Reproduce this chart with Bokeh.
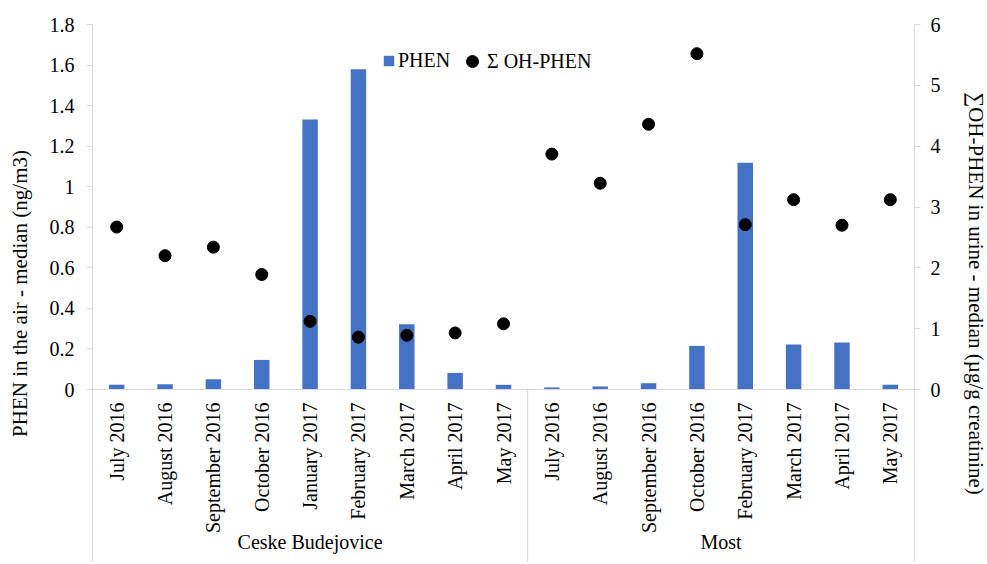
import math
from bokeh.plotting import figure
from bokeh.models import (FactorRange, Range1d, LinearAxis, FixedTicker, CustomJSTickFormatter,
                          Span, ColumnDataSource, Legend, LegendItem, Label)
from bokeh.core.properties import value
from bokeh.embed import file_html
from bokeh.resources import INLINE

# ---------------- data ----------------
cities = ["Ceske Budejovice", "Most"]
months_cb = ["July 2016", "August 2016", "September 2016", "October 2016", "January 2017",
             "February 2017", "March 2017", "April 2017", "May 2017"]
months_most = ["July 2016", "August 2016", "September 2016", "October 2016",
               "February 2017", "March 2017", "April 2017", "May 2017"]
phen_cb = [0.023, 0.026, 0.051, 0.146, 1.331, 1.579, 0.322, 0.082, 0.023]
phen_most = [0.010, 0.015, 0.031, 0.215, 1.118, 0.222, 0.232, 0.023]
oh_cb = [2.67, 2.20, 2.34, 1.89, 1.12, 0.86, 0.89, 0.93, 1.08]
oh_most = [3.87, 3.39, 4.36, 5.52, 2.71, 3.12, 2.70, 3.12]
left_ticks = [0, 0.2, 0.4, 0.6, 0.8, 1.0, 1.2, 1.4, 1.6, 1.8]
right_ticks = [0, 1, 2, 3, 4, 5, 6]
left_max = 1.8
right_max = 6

FONT = "Liberation Serif"
BLUE = "#4472C4"
GREY = "#D9D9D9"

factors = [(cities[0], m) for m in months_cb] + [(cities[1], m) for m in months_most]
src = ColumnDataSource(dict(
    x=factors,
    phen=phen_cb + phen_most,
    oh=oh_cb + oh_most,
    label=months_cb + months_most,
))

FRAME_W, FRAME_H, DATA_H = 822, 538, 365
left_start = -left_max * (FRAME_H - DATA_H) / DATA_H
right_start = left_start * right_max / left_max

p = figure(x_range=FactorRange(factors=factors, group_padding=0, subgroup_padding=0,
                               range_padding=0, factor_padding=0),
           y_range=Range1d(left_start, left_max),
           frame_width=FRAME_W, frame_height=FRAME_H,
           min_border_left=92, min_border_right=71, min_border_top=24, min_border_bottom=0,
           x_axis_location=None, toolbar_location=None, output_backend="svg", tools="")
p.extra_y_ranges = {"oh": Range1d(right_start, right_max)}
p.outline_line_color = None
p.grid.grid_line_color = None
p.background_fill_color = "white"
p.border_fill_color = "white"

def style_axis(ax, label):
    ax.axis_label = label
    ax.axis_label_text_font = FONT
    ax.axis_label_text_font_size = "21px"
    ax.axis_label_text_font_style = "normal"
    ax.axis_label_text_color = "black"
    ax.major_label_text_font = FONT
    ax.major_label_text_font_size = "20px"
    ax.major_label_text_color = "black"
    ax.axis_line_color = GREY
    ax.major_tick_line_color = GREY
    ax.major_tick_out = 6
    ax.major_tick_in = 0
    ax.minor_tick_line_color = None

ya = p.yaxis[0]
ya.ticker = FixedTicker(ticks=left_ticks)
ya.formatter = CustomJSTickFormatter(code="return Number(tick.toFixed(1)).toString();")
style_axis(ya, "PHEN in the air - median (ng/m3)")
ya.major_label_standoff = 12
ya.axis_label_standoff = 15

ra = LinearAxis(y_range_name="oh", ticker=FixedTicker(ticks=right_ticks))
ra.formatter = CustomJSTickFormatter(code="return Number(tick.toFixed(1)).toString();")
style_axis(ra, "\u2211OH-PHEN in urine - median (\u00b5g/g creatinine)")
ra.major_label_standoff = 10
ra.axis_label_standoff = 20
p.add_layout(ra, "right")

# baseline at zero
p.add_layout(Span(location=0, dimension="width", line_color=GREY, line_width=1))

bars = p.vbar(x="x", top="phen", bottom=0, width=0.32, source=src,
              fill_color=BLUE, line_color=None)
dots = p.scatter(x="x", y="oh", size=12, color="black", y_range_name="oh", source=src)

# category labels (rotated)
p.text(x="x", y=0, text="label", source=src, angle=math.pi / 2,
       text_align="right", text_baseline="middle", y_offset=13,
       text_font=value(FONT), text_font_size="20px", text_color="black")

# group labels (centred on each group's categories)
group_sizes = [len(months_cb), len(months_most)]
start = 0
for city, n in zip(cities, group_sizes):
    p.add_layout(Label(x=start + n / 2, y=left_start, x_units="data", y_units="data",
                       text=city, text_align="center", text_baseline="bottom",
                       y_offset=10, text_font=FONT, text_font_size="20px",
                       text_color="black"))
    start += n

# group separator
sep_x = [(cities[1], months_most[0], -0.5)]
p.segment(x0=sep_x, y0=[0], x1=sep_x, y1=[left_start], line_color=GREY, line_width=1)

common = dict(orientation="horizontal", padding=0, margin=0, spacing=0,
              background_fill_alpha=0, border_line_color=None,
              label_text_font=FONT, label_text_font_size="20px", label_text_color="black")
leg1 = Legend(items=[LegendItem(label="PHEN", renderers=[bars])], location=(290, 490),
              glyph_width=13, glyph_height=13, label_standoff=3, **common)
leg2 = Legend(items=[LegendItem(label="\u03a3 OH-PHEN", renderers=[dots])], location=(365, 486),
              glyph_width=30, glyph_height=30, label_standoff=-5, **common)
p.add_layout(leg1)
p.add_layout(leg2)

open("out.html", "w").write(file_html(p, INLINE))
